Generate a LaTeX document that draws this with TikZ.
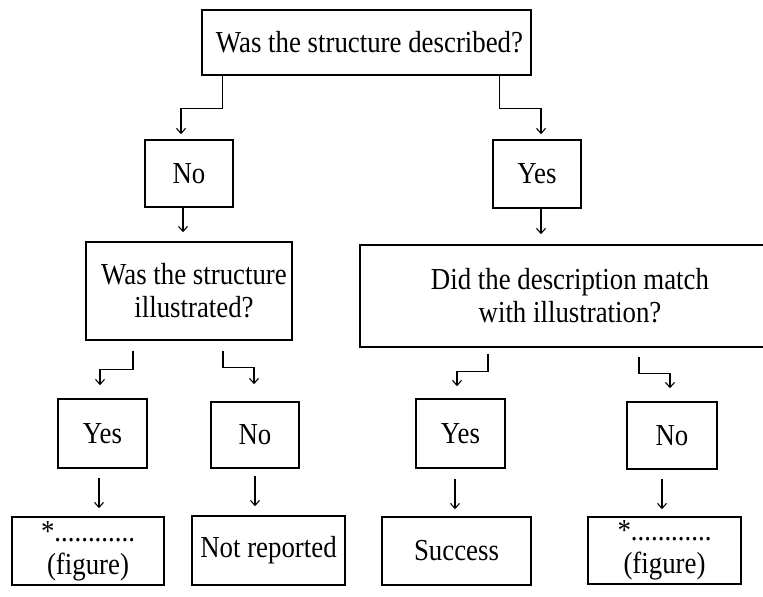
\documentclass[tikz,border=0pt]{standalone}
\usepackage{fontspec}
\setmainfont{Liberation Serif}[FakeStretch=0.88]
\usetikzlibrary{arrows.meta, calc}

\begin{document}
\begin{tikzpicture}[x=1pt, y=-1pt,
    every node/.style={font=\fontsize{30.5}{33}\selectfont, align=center, inner sep=0pt},
    qbox/.style={draw, line width=1.6pt},
    conn/.style={line width=1.1pt, -{Straight Barb[length=5pt,width=9pt]}}]
  \clip (0,0) rectangle (763,597);
  \useasboundingbox (0,0) rectangle (763,597);

  % questions
  \node[qbox, minimum width=329pt, minimum height=65pt] (top) at (366.5,42.5) {\hspace*{6pt}Was the structure described?};
  \node[qbox, minimum width=88pt, minimum height=67pt] (no1) at (189,173.5) {No};
  \node[qbox, minimum width=88pt, minimum height=68pt] (yes1) at (537,174) {Yes};
  \node[qbox, minimum width=206pt, minimum height=98pt] (illus) at (189,291) {\hspace*{10pt}Was the structure\\\hspace*{10pt}illustrated?};
  \node[qbox, minimum width=420pt, minimum height=102pt] (match) at (570,296) {Did the description match\\with illustration?};

  % answers
  \node[qbox, minimum width=89pt, minimum height=69pt] (yes2) at (102.5,433.5) {Yes};
  \node[qbox, minimum width=88pt, minimum height=66pt] (no2) at (255,435) {No};
  \node[qbox, minimum width=89pt, minimum height=69pt] (yes3) at (460.5,433.5) {Yes};
  \node[qbox, minimum width=90pt, minimum height=67pt] (no3) at (672,435.5) {No};

  % outcomes
  \node[qbox, minimum width=152pt, minimum height=68pt] (fig1) at (88,551) {*............\\(figure)};
  \node[qbox, minimum width=153pt, minimum height=69pt] (notrep) at (268.5,550.5) {Not reported};
  \node[qbox, minimum width=149pt, minimum height=68pt] (success) at (456.5,551) {Success};
  \node[qbox, minimum width=153pt, minimum height=67pt] (fig2) at (664.5,550.5) {*............\\(figure)};

  % elbow connectors
  \draw[conn, shorten >=5pt] ([xshift=21pt]top.south west) -- ++(0,33) -| ([xshift=-8pt]no1.north);
  \draw[conn, shorten >=5pt] ([xshift=-32pt]top.south east) -- ++(0,33) -| ([xshift=4pt]yes1.north);
  \draw[conn, shorten >=13pt] ([xshift=-56pt,yshift=-10pt]illus.south) -- ++(0,19) -| ([xshift=-2.5pt]yes2.north);
  \draw[conn, shorten >=17pt] ([xshift=34pt,yshift=-10pt]illus.south) -- ++(0,17) -| ([xshift=-1pt]no2.north);
  \draw[conn, shorten >=12pt] ([xshift=-82pt,yshift=-6pt]match.south) -- ++(0,18) -| ([xshift=-3.5pt]yes3.north);
  \draw[conn, shorten >=13pt] ([xshift=69pt,yshift=-9pt]match.south) -- ++(0,17) -| ([xshift=-2pt]no3.north);

  % straight connectors
  \draw[conn, shorten >=9pt] ([xshift=-6pt]no1.south) -- ([xshift=-6pt]no1.south |- illus.north);
  \draw[conn, shorten >=10pt] ([xshift=4pt]yes1.south) -- ([xshift=4pt]yes1.south |- match.north);
  \draw[conn, shorten <=9pt, shorten >=8pt] ([xshift=-3.5pt]yes2.south) -- ([xshift=-3.5pt]yes2.south |- fig1.north);
  \draw[conn, shorten <=7pt, shorten >=9pt] (no2.south) -- (no2.south |- notrep.north);
  \draw[conn, shorten <=10pt, shorten >=7pt] ([xshift=-5.5pt]yes3.south) -- ([xshift=-5.5pt]yes3.south |- success.north);
  \draw[conn, shorten <=9pt, shorten >=7pt] ([xshift=-10pt]no3.south) -- ([xshift=-10pt]no3.south |- fig2.north);
\end{tikzpicture}
\end{document}
